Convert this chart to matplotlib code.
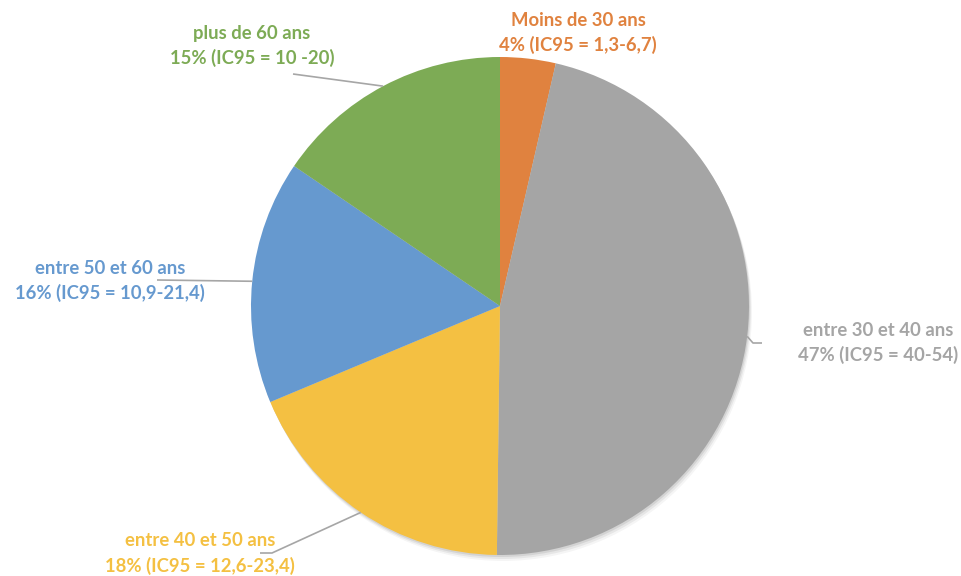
import numpy as np
import matplotlib.pyplot as plt

# data (slice sizes as drawn; labels as printed)
groups = ["Moins de 30 ans", "entre 30 et 40 ans", "entre 40 et 50 ans",
          "entre 50 et 60 ans", "plus de 60 ans"]
shares = [3.6, 46.6, 18.5, 15.8, 15.5]
ci_labels = ["4% (IC95 = 1,3-6,7)", "47% (IC95 = 40-54)", "18% (IC95 = 12,6-23,4)",
             "16% (IC95 = 10,9-21,4)", "15% (IC95 = 10 -20)"]
colors = ["#E0823F", "#A5A5A5", "#F4C042", "#6699CF", "#7DAB55"]

W, H = 962, 576
cx, cy, r = 500, H - 306, 249

fig = plt.figure(figsize=(W / 100, H / 100), dpi=100)
ax = fig.add_axes([0, 0, 1, 1])

# soft shadow
for k, a in [(6, 0.04), (4, 0.06), (2, 0.08)]:
    ax.add_patch(plt.Circle((cx + k * 0.5, cy - k), r, color="#000000", alpha=a, lw=0))

wedges, _ = ax.pie(shares, colors=colors, startangle=90, counterclock=False,
                   center=(cx, cy), radius=r, frame=True,
                   wedgeprops=dict(linewidth=0))
ax.set_xlim(0, W)
ax.set_ylim(0, H)
ax.set_aspect("equal")
ax.axis("off")

# label centres (pixels from top) and leader lines: (text end, elbow)
label_pos = [(578, 20), (878, 330), (200, 541), (110, 268), (252, 33)]
leaders = [None,
           [(762, 343), (753, 343)],
           [(260, 553), (272, 553)],
           [(157, 280)],
           [(293, 74)]]
anchor_deg = [None, -7, -124, 174.3, 118]

font = ["Lato", "DejaVu Sans"]
for i, w in enumerate(wedges):
    x, y = label_pos[i]
    ax.text(x, H - y, groups[i], ha="center", va="center", color=colors[i],
            fontsize=13.3, fontweight="bold", family=font)
    ax.text(x, H - y - 25, ci_labels[i], ha="center", va="center", color=colors[i],
            fontsize=13.3, fontweight="bold", family=font)
    if leaders[i] is None:
        continue
    pts = [(px, H - py) for px, py in leaders[i]]
    ang = np.deg2rad(anchor_deg[i])
    pts.append((cx + r * np.cos(ang), cy + r * np.sin(ang)))
    xs, ys = zip(*pts)
    ax.plot(xs, ys, color="#A6A6A6", lw=1.2, solid_capstyle="butt")

fig.savefig("out.png", dpi=100)
